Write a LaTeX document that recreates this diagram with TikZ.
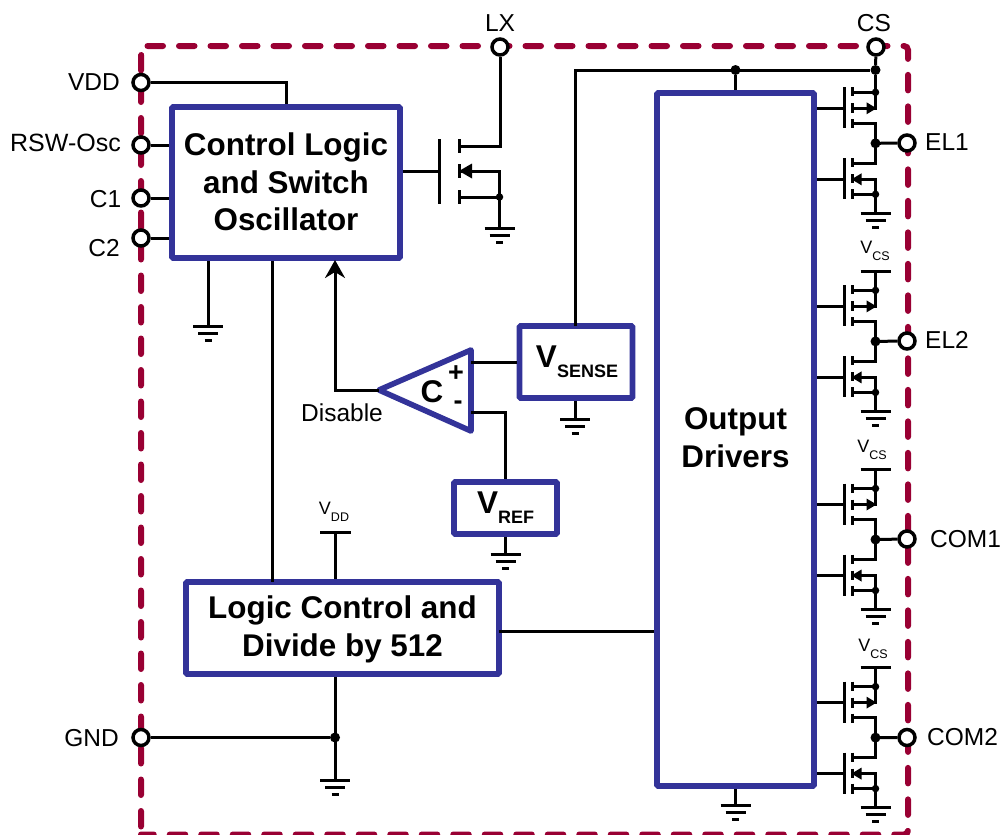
\documentclass[tikz,border=0pt]{standalone}
\usepackage{fontspec}
\setmainfont{Liberation Sans}
\usetikzlibrary{arrows.meta}

\definecolor{blockblue}{HTML}{333399}
\definecolor{dashred}{HTML}{990033}

\newcommand{\vsmall}[1]{{\fontsize{18}{18}\selectfont V}\raisebox{-7pt}{\fontsize{12.5}{12.5}\selectfont #1}}
\newcommand{\vbig}[1]{{\fontsize{31.5}{31.5}\selectfont V}\raisebox{-10pt}{\fontsize{18}{18}\selectfont #1}}

\tikzset{
    wire/.style={line width=3pt},
    outline/.style={dashred, line width=6pt, line cap=round, dash pattern=on 15.5pt off 16pt, rounded corners=4pt},
    block/.style={draw=blockblue, line width=5.6pt, rounded corners=1pt, fill=white},
    blocktext/.style={inner sep=0pt, align=center, font=\fontsize{31.4}{37.5}\bfseries\selectfont},
    pin/.style={circle, draw, line width=3.5pt, fill=white, minimum size=16pt, inner sep=0pt},
    pinlabel/.style={inner sep=0pt, font=\fontsize{24.5}{24.5}\selectfont},
    dot/.style={circle, fill, inner sep=0pt, minimum size=10pt},
    smalldot/.style={circle, fill, inner sep=0pt, minimum size=7.5pt},
    gnd/.pic={
        \draw[wire] (-15,0) -- (15,0);
        \draw[wire] (-10,7) -- (10,7);
        \draw[wire] (-3.5,14) -- (3.5,14);
    },
    fetpair/.pic={
        % upper device
        \draw[wire] (-31,-56) -- (-31,-15);
        \draw[wire] (-23,-56) -- (-23,-47);
        \draw[wire] (-23,-40) -- (-23,-30);
        \draw[wire] (-23,-24) -- (-23,-15);
        \draw[wire] (-23,-51) -- (0,-51);
        \draw[wire] (-23,-35) -- (0,-35) -- (0,-51);
        \draw[wire] (-23,-20) -- (0,-20) -- (0,0);
        \fill (1,-35) -- (-9,-41) -- (-9,-29) -- cycle;
        \node[smalldot] at (0,-51) {};
        % lower device
        \draw[wire] (-31,15) -- (-31,56);
        \draw[wire] (-23,15) -- (-23,24);
        \draw[wire] (-23,31) -- (-23,40);
        \draw[wire] (-23,46) -- (-23,56);
        \draw[wire] (-23,20) -- (0,20) -- (0,0);
        \draw[wire] (-23,36) -- (0,36) -- (0,70);
        \draw[wire] (-23,51) -- (0,51);
        \fill (-24,36) -- (-14,30) -- (-14,42) -- cycle;
        \node[smalldot] at (0,51) {};
        \node[dot] at (0,0) {};
        \coordinate (-mid) at (0,0);
        \coordinate (-top) at (0,-51);
        \coordinate (-gateup) at (-31,-35);
        \coordinate (-gatedn) at (-31,36);
        \coordinate (-rail) at (0,-70);
        \coordinate (-base) at (0,70);
    },
}

\begin{document}
\begin{tikzpicture}[x=1pt, y=-1pt]

    \useasboundingbox (0,0) rectangle (1001,835);

    % package outline
    \draw[outline] (147.5,46) -- (908,46) -- (908,834.5) -- (141,834.5);
    \draw[outline] (141,826.5) -- (141,52) -- (146,46);

    % blocks
    \node[block, minimum width=228pt, minimum height=151pt] (ctrl) at (286,182.5) {};
    \node[block, minimum width=157pt, minimum height=693pt] (drv) at (735.5,439.5) {};
    \node[block, minimum width=313pt, minimum height=92pt] (logic) at (342.5,628) {};
    \node[block, minimum width=113pt, minimum height=72pt] (vsense) at (576,362) {};
    \node[block, minimum width=103pt, minimum height=52pt] (vref) at (505.5,508) {};

    \node[blocktext] (ctrltext) at (286,182) {Control Logic\\and Switch\\Oscillator};
    \node[blocktext] (drvtext) at (735.5,437.5) {Output\\Drivers};
    \node[blocktext] (logictext) at (342.5,629.5) {Logic Control and\\Divide by 512};
    \node[blocktext] (vsensetext) at (577,362) {\vbig{SENSE}};
    \node[blocktext] (vreftext) at (505.5,508) {\vbig{REF}};

    % comparator
    \coordinate (cmptip) at (379,390);
    \coordinate (cmpplus) at (471,362);
    \coordinate (cmpminus) at (471,412);
    \draw[blockblue, line width=5.6pt, line join=round] (cmptip) -- (471,350) -- (471,431) -- cycle;
    \node[inner sep=0pt, font=\fontsize{31.4}{31.4}\bfseries\selectfont] (cmpc) at (432,392) {C};
    \node[inner sep=0pt, font=\fontsize{27}{27}\bfseries\selectfont] (cmpp) at (456,374) {+};
    \node[inner sep=0pt, font=\fontsize{27}{27}\bfseries\selectfont] (cmpm) at (458,405) {-};

    % pins
    \node[pin] (vdd) at (141,82.5) {};
    \node[pin] (rsw) at (141,145) {};
    \node[pin] (cone) at (141,198) {};
    \node[pin] (ctwo) at (141,238) {};
    \node[pin] (gnd) at (141,737.5) {};
    \node[pin] (lx) at (500,47) {};
    \node[pin] (cs) at (876,47) {};
    \node[pin] (elone) at (907,143) {};
    \node[pin] (eltwo) at (907,341) {};
    \node[pin] (comone) at (907,539) {};
    \node[pin] (comtwo) at (907,737.5) {};

    \node[pinlabel, anchor=east] (lblvdd) at (120,82) {VDD};
    \node[pinlabel, anchor=east, font=\fontsize{25}{25}\selectfont] (lblrsw) at (121,143) {RSW-Osc};
    \node[pinlabel, anchor=east] (lblcone) at (121.5,199) {C1};
    \node[pinlabel, anchor=east] (lblctwo) at (120,248) {C2};
    \node[pinlabel, anchor=east] (lblgnd) at (119,738) {GND};
    \node[pinlabel] (lbllx) at (500,23) {LX};
    \node[pinlabel] (lblcs) at (874,23) {CS};
    \node[pinlabel, anchor=west] (lblelone) at (925,142) {EL1};
    \node[pinlabel, anchor=west] (lbleltwo) at (925,340) {EL2};
    \node[pinlabel, anchor=west] (lblcomone) at (930,539) {COM1};
    \node[pinlabel, anchor=west] (lblcomtwo) at (927,737) {COM2};
    \node[pinlabel] (lbldis) at (342,413) {Disable};

    % wires on the left side
    \draw[wire] (vdd) -| (ctrl.north);
    \draw[wire] (rsw) -- (rsw -| ctrl.west);
    \draw[wire] (cone) -- (cone -| ctrl.west);
    \draw[wire] (ctwo) -- (ctwo -| ctrl.west);

    \coordinate (gndctrl) at (208,326);
    \draw[wire] (gndctrl |- ctrl.south) -- (gndctrl);
    \pic at (gndctrl) {gnd};
    \coordinate (clkdown) at (272,582);
    \draw[wire] (clkdown |- ctrl.south) -- (clkdown);

    \coordinate (disarrow) at (335,260);
    \draw[wire, -{Stealth[length=18pt, width=20pt, inset=6pt]}] (cmptip) -| (disarrow);

    % comparator inputs
    \draw[wire] (cmpplus) -- (cmpplus -| vsense.west);
    \draw[wire] (cmpminus) -| (vref.north);

    % sense and reference grounds
    \coordinate (gndsense) at (575,419);
    \draw[wire] (gndsense |- vsense.south) -- (gndsense);
    \pic at (gndsense) {gnd};
    \coordinate (gndref) at (505.5,554);
    \draw[wire] (vref.south) -- (gndref);
    \pic at (gndref) {gnd};

    % logic block
    \coordinate (vddbar) at (335,532);
    \draw[wire] (vddbar |- logic.north) -- (vddbar);
    \draw[wire] (320,532) -- (351,532);
    \node[inner sep=0pt] (lblvddin) at (334,512) {\vsmall{DD}};
    \coordinate (gndlogic) at (335,780);
    \node[dot] (gnddot) at (335,737.5) {};
    \draw[wire] (gndlogic |- logic.south) -- (gndlogic);
    \pic at (gndlogic) {gnd};
    \draw[wire] (gnd) -- (gnddot);
    \coordinate (logicout) at (499,631);
    \draw[wire] (logicout) -- (logicout -| drv.west);

    % LX transistor
    \coordinate (lxdrain) at (459,146);
    \coordinate (lxsource) at (459,171);
    \coordinate (lxbody) at (459,197);
    \coordinate (gndlx) at (499.5,228);
    \draw[wire] (439.5,139) -- (439.5,204);
    \draw[wire] (459,139) -- (459,153);
    \draw[wire] (459,164) -- (459,178);
    \draw[wire] (459,190) -- (459,204);
    \draw[wire] (ctrl.east |- lxsource) -- (439.5,171);
    \draw[wire] (lxdrain) -| (lx);
    \draw[wire] (lxsource) -| (gndlx);
    \draw[wire] (lxbody) -- (gndlx |- lxbody);
    \fill (459,171) -- (472,163.5) -- (472,178.5) -- cycle;
    \node[smalldot] (lxdot) at (gndlx |- lxbody) {};
    \pic at (gndlx) {gnd};

    % sense rail
    \node[dot] (railcs) at (875.5,70) {};
    \node[dot] (raildrv) at (drv.north |- railcs) {};
    \draw[wire] (575,326) |- (railcs);
    \draw[wire] (raildrv) -- (drv.north);
    \draw[wire] (cs) -- (railcs);

    % output stages
    \foreach \stage/\pinname/\ypos in {stageone/elone/143.3, stagetwo/eltwo/341.4, stagethree/comone/539.5, stagefour/comtwo/737.6} {
        \pic (\stage) at (875.5,\ypos) {fetpair};
        \draw[wire] (\stage-gateup -| drv.east) -- (\stage-gateup);
        \draw[wire] (\stage-gatedn -| drv.east) -- (\stage-gatedn);
        \draw[wire] (\stage-mid) -- (\pinname);
        \pic at (\stage-base) {gnd};
    }
    \draw[wire] (railcs) -- (stageone-top);
    \foreach \stage in {stagetwo, stagethree, stagefour} {
        \draw[wire] (\stage-rail) -- (\stage-top);
        \draw[wire] ([xshift=-15pt]\stage-rail) -- ([xshift=15pt]\stage-rail);
    }
    \node[inner sep=0pt] (vcstwo) at (875,251) {\vsmall{CS}};
    \node[inner sep=0pt] (vcsthree) at (872,450) {\vsmall{CS}};
    \node[inner sep=0pt] (vcsfour) at (873,649) {\vsmall{CS}};

    % output drivers ground
    \coordinate (gnddrv) at (735.5,805);
    \draw[wire] (drv.south) -- (gnddrv);
    \pic at (gnddrv) {gnd};

\end{tikzpicture}
\end{document}
